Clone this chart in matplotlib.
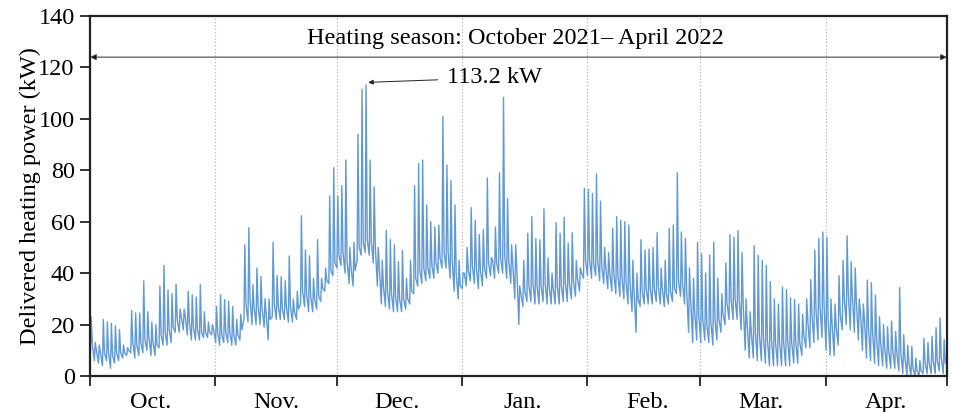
import numpy as np
import pandas as pd
import matplotlib
matplotlib.use('Agg')
import matplotlib.pyplot as plt
import matplotlib.dates as mdates
import matplotlib.transforms as mtransforms

plt.rcParams['font.family'] = ['Liberation Serif', 'DejaVu Serif']

# ---- data (daily peak / typical level / trough, kW) ----
oct_peak = [23, 13, 12, 22, 21, 20.5, 19.5, 18, 12, 11, 25.5, 24.5, 24.5, 37, 25, 21, 20, 35, 43, 33.5,
            32, 35.7, 26, 26, 33, 31.6, 30.7, 35.5, 25, 21, 20]
oct_mid = [12, 10, 9, 9, 9, 8, 9, 9, 9, 10, 13, 12, 13, 14, 15, 13, 12, 16, 17, 18, 19, 22, 23, 23, 21,
           19, 18, 17, 17, 17, 18]
oct_low = [8, 6, 5, 4, 6, 3, 5, 6, 7, 8, 9, 7, 8, 9, 10, 8, 8, 11, 12, 12, 13, 17, 17, 18, 16, 14, 14,
           14, 15, 15, 16]

nov_peak = [27, 31.6, 29.7, 29, 27, 22, 24, 51, 57.7, 35.5, 42, 38.7, 30, 30, 52, 39, 38.6, 37, 46.7,
            30, 33, 62.3, 49, 46.7, 38, 53, 38, 42, 70, 81]
nov_mid = [17, 16, 17, 17, 16, 16, 18, 28, 30, 27, 27, 26, 24, 22, 28, 27, 26, 27, 27, 25, 26, 33, 32,
           31, 30, 31, 34, 37, 41, 44]
nov_low = [13, 12, 13, 13, 12, 12, 14, 22, 21, 20, 20, 20, 19, 14, 23, 22, 22, 22, 21, 21, 22, 28, 27,
           25, 25, 26, 29, 33, 36, 39]

dec_peak = [70, 74, 84, 50, 52, 94, 111.5, 113.2, 84, 73.5, 50, 45, 56.6, 53, 51, 44.5, 48.8, 38, 45,
            74, 82.6, 84, 66.5, 60, 58, 58.7, 101, 82, 76, 66.5, 45]
dec_mid = [47, 48, 45, 42, 41, 50, 52, 53, 52, 50, 42, 35, 33, 32, 31, 30, 30, 30, 33, 38, 41, 42, 42,
           43, 44, 46, 48, 48, 45, 40, 35]
dec_low = [42, 43, 40, 36, 35, 45, 47, 48, 47, 44, 35, 28, 27, 26, 25, 25, 25, 26, 28, 32, 35, 36, 37,
           38, 38, 40, 42, 42, 38, 33, 30]

jan_peak = [40, 50, 65.5, 60.6, 55, 57, 77, 46, 58, 79, 108.4, 69, 51, 51, 35, 45, 55.5, 62, 53.5, 53,
            65, 46, 40, 59.6, 55.5, 61.7, 51.6, 55.7, 45, 42, 73]
jan_mid = [40, 41, 43, 42, 41, 42, 44, 45, 44, 46, 47, 45, 43, 42, 32, 33, 35, 36, 35, 35, 36, 35, 34,
           35, 35, 36, 36, 37, 38, 40, 45]
jan_low = [34, 35, 37, 36, 34, 35, 38, 39, 38, 40, 40, 38, 36, 30, 20, 27, 29, 29, 28, 28, 29, 28, 28,
           28, 28, 29, 29, 30, 31, 33, 38]

feb_peak = [72.5, 71, 78.6, 68, 50, 48, 57.4, 62, 60.6, 60, 58.7, 45, 40, 53, 49, 49.3, 50, 55.7, 42,
            45, 57.4, 58.7, 79, 56, 53.5, 42, 38, 52]
feb_mid = [45, 44, 45, 43, 42, 40, 40, 39, 38, 37, 36, 33, 30, 33, 34, 34, 34, 35, 34, 32, 33, 34, 37,
           36, 34, 30, 25, 24]
feb_low = [39, 38, 39, 37, 36, 34, 33, 32, 31, 30, 28, 25, 17, 27, 28, 28, 28, 29, 28, 27, 28, 29, 32,
           31, 28, 17, 13, 14]

mar_peak = [47.5, 40, 47, 52, 38, 32, 44, 55, 54, 56.5, 48, 30, 25, 50.7, 47, 45, 43, 36.7, 30, 28,
            34.6, 33.6, 30.4, 29.8, 28, 24, 30, 37.5, 49, 53.5, 56]
mar_mid = [22, 20, 21, 22, 22, 24, 28, 30, 30, 30, 28, 20, 17, 17, 16, 15, 14, 14, 13, 13, 13, 14, 13,
           13, 13, 16, 21, 24, 26, 27, 28]
mar_low = [13, 14, 13, 12, 14, 17, 20, 22, 22, 22, 18, 10, 7, 7, 6, 6, 5, 4, 4, 4, 4, 4, 4, 5, 5, 8,
           11, 11, 13, 14, 15]

apr_peak = [53.8, 30, 28, 39, 45, 54.5, 44.5, 42, 30, 28, 37.3, 36.3, 31.5, 23, 20, 19.2, 21.4, 17.3,
            34.4, 16, 12, 11.5, 7, 6, 14.6, 13, 15.5, 18.8, 22.6, 14.2]
apr_mid = [22, 20, 19, 24, 30, 32, 31, 29, 25, 22, 19, 17, 15, 13, 11, 10, 10, 9, 9, 7, 5, 3, 2, 2, 5,
           5, 6, 6, 7, 5]
apr_low = [10, 8, 8, 12, 18, 20, 18, 17, 14, 10, 7, 6, 5, 4, 4, 3, 3, 3, 2, 1, 0.5, 0, 0, 0, 1, 1, 1,
           1, 2, 1]

month_labels = ['Oct.', 'Nov.', 'Dec.', 'Jan.', 'Feb.', 'Mar.', 'Apr.']
season_text = 'Heating season: October 2021\u2013 April 2022'
peak_text = '113.2 kW'
peak_value = 113.2

daily_peak = oct_peak + nov_peak + dec_peak + jan_peak + feb_peak + mar_peak + apr_peak
daily_mid = oct_mid + nov_mid + dec_mid + jan_mid + feb_mid + mar_mid + apr_mid
daily_low = oct_low + nov_low + dec_low + jan_low + feb_low + mar_low + apr_low

days = pd.date_range('2021-10-01', periods=len(daily_peak), freq='D')
times, values = [], []
for d, lo, pk, md in zip(days, daily_low, daily_peak, daily_mid):
    times += [d + pd.Timedelta(hours=2), d + pd.Timedelta(hours=7), d + pd.Timedelta(hours=14)]
    values += [lo, pk, md]

start = pd.Timestamp('2021-10-01')
end = pd.Timestamp('2022-05-01')

FS = 17.5

# ---- figure ----
fig = plt.figure(figsize=(9.54, 4.12), dpi=100)
ax = fig.add_axes([90 / 954, 1 - 376 / 412, (947 - 90) / 954, (376 - 16) / 412])

ax.plot(times, values, color='#6199d2', lw=1.0)

ax.set_xlim(start, end)
ax.set_ylim(0, 140)
ax.set_yticks(np.arange(0, 141, 20))

ax.xaxis.set_major_locator(mdates.MonthLocator())
ax.xaxis.set_major_formatter(plt.NullFormatter())
ax.xaxis.set_minor_locator(mdates.MonthLocator(bymonthday=16))
ax.xaxis.set_minor_formatter(plt.FixedFormatter(month_labels))
ax.tick_params(axis='x', which='major', direction='out', length=7.5, width=1.3, color='#222222')
ax.tick_params(axis='x', which='minor', length=0, pad=11.5, labelsize=FS)
ax.tick_params(axis='y', which='major', direction='out', length=7, width=1.3, pad=4, labelsize=FS,
               color='#222222')
ax.tick_params(axis='y', which='minor', left=False)

ax.grid(axis='x', which='major', linestyle=(0, (1, 2)), color='#aaaaaa', lw=0.8)

for s in ax.spines.values():
    s.set_linewidth(1.6)
    s.set_color('#222222')

ax.set_ylabel('Delivered heating power (kW)', fontsize=FS, labelpad=-2)

# heating season double arrow
ax.annotate('', xy=(start, 124), xytext=(end, 124),
            arrowprops=dict(arrowstyle='<|-|>', color='#666666', lw=0.8, mutation_scale=9,
                            shrinkA=0, shrinkB=0, fc='black', ec='#444444'))
trans = mtransforms.blended_transform_factory(ax.transAxes, ax.transData)
ax.text(0.497, 131.3, season_text, transform=trans, ha='center', va='center', fontsize=FS)

# peak annotation
peak_day = days[int(np.argmax(daily_peak))] + pd.Timedelta(hours=20)
ax.annotate(peak_text, xy=(peak_day, peak_value + 1), xytext=(pd.Timestamp('2021-12-28 10:00'), 116),
            ha='left', va='center', fontsize=FS,
            arrowprops=dict(arrowstyle='-|>', color='#222222', lw=0.7, mutation_scale=7,
                            shrinkA=5, shrinkB=0))

fig.savefig('out.png', dpi=100)
